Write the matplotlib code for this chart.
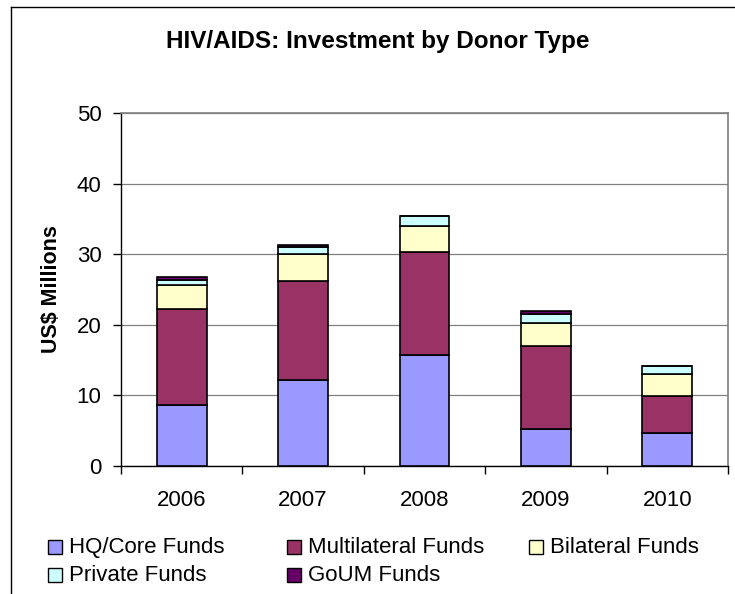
import matplotlib
matplotlib.use("Agg")
import matplotlib.pyplot as plt
from matplotlib.patches import Rectangle
from matplotlib.lines import Line2D
import numpy as np

plt.rcParams['font.family'] = ['Liberation Sans', 'DejaVu Sans']

# HIV/AIDS investment by donor type, US$ millions
years = ['2006', '2007', '2008', '2009', '2010']
hq_core = [8.7, 12.2, 15.7, 5.3, 4.7]
multilateral = [13.5, 14.0, 14.6, 11.7, 5.15]
bilateral = [3.4, 3.8, 3.7, 3.3, 3.2]
private = [0.8, 1.0, 1.4, 1.2, 1.1]
goum = [0.35, 0.3, 0.0, 0.4, 0.0]

series_names = ['HQ/Core Funds', 'Multilateral Funds', 'Bilateral Funds',
                'Private Funds', 'GoUM Funds']
series_colors = ['#9999FF', '#993366', '#FFFFCC', '#CCFFFF', '#660066']

W, H = 735, 594
fig = plt.figure(figsize=(W / 100, H / 100), dpi=100)

# plot area in pixels: left 121, right 728, top 113, bottom 466
ax = fig.add_axes([121 / W, 1 - 466 / H, 607 / W, 353 / H])

x = np.arange(len(years))
bottom = np.zeros(len(years))
for vals, col in zip([hq_core, multilateral, bilateral, private, goum], series_colors):
    vals = np.array(vals)
    ax.bar(x, vals, width=0.41, bottom=bottom, color=col,
           edgecolor='black', linewidth=1.2, zorder=3)
    bottom += vals

ax.set_xlim(-0.5, len(years) - 0.5)
ax.set_ylim(0, 50)
ax.set_yticks(np.arange(0, 51, 10))
ax.yaxis.grid(True, color='#808080', linewidth=0.9)
ax.set_axisbelow(True)

ax.set_xticks(x)
ax.set_xticklabels(years, fontsize=16)
ax.set_xticks(np.arange(-0.5, len(years)), minor=True)
ax.tick_params(axis='x', which='major', length=0, pad=17)
ax.tick_params(axis='x', which='minor', length=6, width=1, direction='out')
ax.tick_params(axis='y', labelsize=16, length=6, width=1, direction='out', pad=8)

for side in ['top', 'right']:
    ax.spines[side].set_color('#808080')
    ax.spines[side].set_linewidth(1.2)
for side in ['left', 'bottom']:
    ax.spines[side].set_color('black')
    ax.spines[side].set_linewidth(1)

ax.text(-0.115, 0.5, 'US$ Millions', transform=ax.transAxes, rotation=90,
        ha='center', va='center', fontsize=15.5, fontweight='bold')

fig.text(377.5 / W, 1 - 48 / H, 'HIV/AIDS: Investment by Donor Type',
         ha='center', va='baseline', fontsize=17.5, fontweight='bold')

# legend laid out in two rows like the spreadsheet chart
legend_pos = [(48, 0), (287, 0), (529, 0), (48, 1), (287, 1)]
for name, col, (lx, row) in zip(series_names, series_colors, legend_pos):
    cy = 547 + row * 28
    sq = 14
    fig.add_artist(Rectangle((lx / W, 1 - (cy + sq / 2) / H), sq / W, sq / H,
                             transform=fig.transFigure, facecolor=col,
                             edgecolor='black', linewidth=1))
    fig.text((lx + 21) / W, 1 - (cy + 6) / H, name, ha='left', va='baseline',
             fontsize=16)

# chart frame
fig.add_artist(Line2D([11 / W, 11 / W], [0, 1 - 7 / H], color='black',
                      linewidth=1, transform=fig.transFigure))
fig.add_artist(Line2D([11 / W, 1], [1 - 7 / H, 1 - 7 / H], color='black',
                      linewidth=1, transform=fig.transFigure))

fig.savefig('out.png', dpi=100)
